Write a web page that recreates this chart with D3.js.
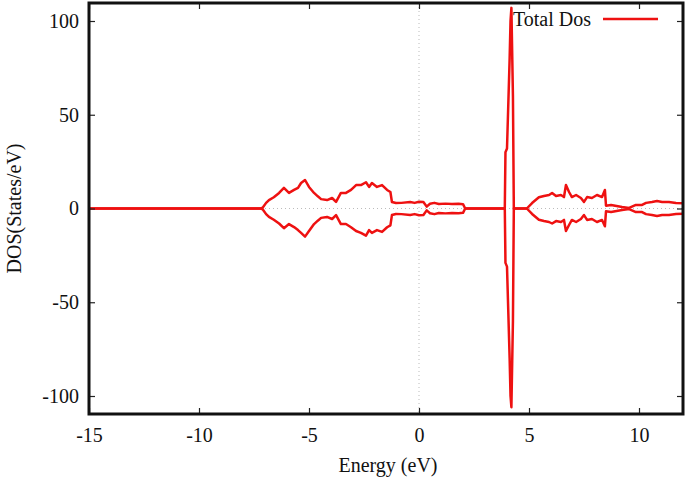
<!DOCTYPE html>
<html>
<head>
<meta charset="utf-8">
<script src="https://cdn.jsdelivr.net/npm/d3@7"></script>
<style>
body { margin: 0; background: #fff; }
text { font-family: "Liberation Serif", "Times New Roman", serif; }
</style>
</head>
<body>
<script>
// energy grid (eV)
var energy = [-15, -7.2, -7.1, -6.95, -6.82, -6.6, -6.36, -6.14, -5.91, -5.68, -5.5, -5.36, -5.18, -5.0,
  -4.77, -4.6, -4.45, -4.18, -3.95, -3.77, -3.55, -3.32, -3.09, -2.86, -2.64, -2.41, -2.27, -2.14,
  -1.91, -1.68, -1.45, -1.3, -1.23, -1.05, -0.8, -0.4, -0.2, 0, 0.2, 0.35, 0.5, 0.7, 0.9, 1.2, 1.5,
  1.8, 2.0, 2.1, 3.9, 3.93, 4.0, 4.12, 4.16, 4.2, 4.27, 4.31, 4.9, 5.14, 5.45, 5.68, 5.91, 6.05,
  6.23, 6.45, 6.59, 6.68, 6.82, 6.95, 7.14, 7.36, 7.5, 7.64, 7.86, 8.09, 8.32, 8.45, 8.5, 8.73, 9.23,
  9.55, 9.86, 10.14, 10.32, 10.59, 10.82, 11.05, 11.36, 11.68, 12];

// spin up DOS (States/eV)
var dosUp = [0, 0, 0.5, 3, 4.5, 6, 8.3, 11, 8.3, 9.9, 11, 13.6, 15.2, 11.5,
  8.3, 6.5, 5, 4.5, 5.6, 3.5, 8.3, 8.3, 9.9, 12.5, 12.5, 14, 11.5, 13.6,
  11.5, 12.5, 9.9, 8.8, 3.5, 2.9, 3, 3.5, 3, 3.6, 3.5, 1, 2.5, 3, 2.4, 2.6, 2.4,
  2.5, 2.3, 0, 0, 30, 32, 80, 100, 107, 60, 0, 0, 2.9, 6, 6.7, 7.2, 8.3,
  6.7, 7.2, 6.1, 12.5, 8.8, 6.1, 7.2, 5.6, 3.5, 6.1, 5.6, 7.2, 6.1, 9.9, 1.5, 1.9, 0.8,
  0.3, 1.9, 1.9, 3, 3.5, 4, 3.5, 3.5, 2.9, 2.8];

// spin down DOS (States/eV)
var dosDown = [0, 0, -0.5, -3, -4.5, -6, -8, -10.5, -8.3, -9.9, -11.5, -13, -15, -12,
  -8.3, -6.5, -5, -4.5, -5.6, -3.5, -8.3, -8.3, -10, -12, -13, -14.5, -11.5, -13,
  -11.5, -12.5, -10, -9, -3.5, -2.9, -3, -3.5, -3, -3.6, -3.5, -1, -2.5, -3, -2.4, -2.6, -2.4,
  -2.5, -2.3, 0, 0, -29, -31, -80, -100, -106, -60, 0, 0, -2.9, -6, -6.7, -7.2, -8,
  -6.7, -7.2, -6.1, -12, -8.8, -6.1, -7.2, -5.6, -3.5, -6.1, -5.6, -7.2, -6.1, -9.5, -1.5, -1.9, -0.8,
  -0.3, -1.9, -1.9, -3, -3.5, -4, -3.5, -3.5, -2.9, -2.8];

var xTicks = [-15, -10, -5, 0, 5, 10];
var yTicks = [-100, -50, 0, 50, 100];

var W = 685, H = 478;
var margin = {top: 3, right: 2, bottom: 64, left: 89};
var pw = W - margin.left - margin.right;
var ph = H - margin.top - margin.bottom;
var red = "#ee1111";

var svg = d3.select("body").append("svg")
    .attr("width", W)
    .attr("height", H);

var g = svg.append("g").attr("transform", "translate(" + margin.left + "," + margin.top + ")");

var x = d3.scaleLinear().domain([-15, 12]).range([0, pw]);
var y = d3.scaleLinear().domain([-109.6, 109.6]).range([ph, 0]);

// dotted zero lines
g.append("line")
    .attr("x1", x(0)).attr("x2", x(0))
    .attr("y1", 0).attr("y2", ph)
    .attr("stroke", "#bbb").attr("stroke-width", 1).attr("stroke-dasharray", "1,3");
g.append("line")
    .attr("x1", 0).attr("x2", pw)
    .attr("y1", y(0)).attr("y2", y(0))
    .attr("stroke", "#bbb").attr("stroke-width", 1).attr("stroke-dasharray", "1,3");

var line = d3.line()
    .x(function (d) { return x(d[0]); })
    .y(function (d) { return y(d[1]); })
    .curve(d3.curveLinear);

var upData = energy.map(function (e, i) { return [e, dosUp[i]]; });
var dnData = energy.map(function (e, i) { return [e, dosDown[i]]; });

g.append("path").attr("d", line(upData))
    .attr("fill", "none").attr("stroke", red).attr("stroke-width", 2.5)
    .attr("stroke-linejoin", "round");
g.append("path").attr("d", line(dnData))
    .attr("fill", "none").attr("stroke", red).attr("stroke-width", 2.5)
    .attr("stroke-linejoin", "round");

// axes, ticks pointing inward, mirrored on top/right
var fmt = function (d) { return String(d); };
var xAxis = g.append("g").attr("transform", "translate(0," + ph + ")")
    .call(d3.axisBottom(x).tickValues(xTicks).tickSize(-6).tickPadding(14).tickFormat(fmt));
var xTop = g.append("g")
    .call(d3.axisTop(x).tickValues(xTicks).tickSize(-6).tickFormat(""));
var yAxis = g.append("g")
    .call(d3.axisLeft(y).tickValues(yTicks).tickSize(-6).tickPadding(10).tickFormat(fmt));
var yRight = g.append("g").attr("transform", "translate(" + pw + ",0)")
    .call(d3.axisRight(y).tickValues(yTicks).tickSize(-6).tickFormat(""));

[xAxis, xTop, yAxis, yRight].forEach(function (a) {
    a.select(".domain").remove();
    a.selectAll(".tick line").attr("stroke", "#222").attr("stroke-width", 1.2);
    a.selectAll(".tick text").attr("font-family", "Liberation Serif, serif")
        .attr("font-size", 20).attr("fill", "#111");
});
xAxis.selectAll(".tick text").attr("dy", "0.71em");

// frame
g.append("rect")
    .attr("x", 0).attr("y", 0)
    .attr("width", pw).attr("height", ph)
    .attr("fill", "none").attr("stroke", "#111").attr("stroke-width", 3);

// axis titles
svg.append("text")
    .attr("x", 388).attr("y", 472)
    .attr("text-anchor", "middle")
    .attr("font-size", 20).attr("fill", "#111")
    .text("Energy (eV)");
svg.append("text")
    .attr("transform", "translate(21," + (margin.top + y(0)) + ") rotate(-90)")
    .attr("text-anchor", "middle")
    .attr("font-size", 20).attr("fill", "#111")
    .text("DOS(States/eV)");

// legend
svg.append("text")
    .attr("x", 591).attr("y", 26)
    .attr("text-anchor", "end")
    .attr("font-size", 20).attr("fill", "#111")
    .text("Total Dos");
svg.append("line")
    .attr("x1", 603).attr("x2", 658)
    .attr("y1", 19).attr("y2", 19)
    .attr("stroke", red).attr("stroke-width", 2.5);
</script>
</body>
</html>
